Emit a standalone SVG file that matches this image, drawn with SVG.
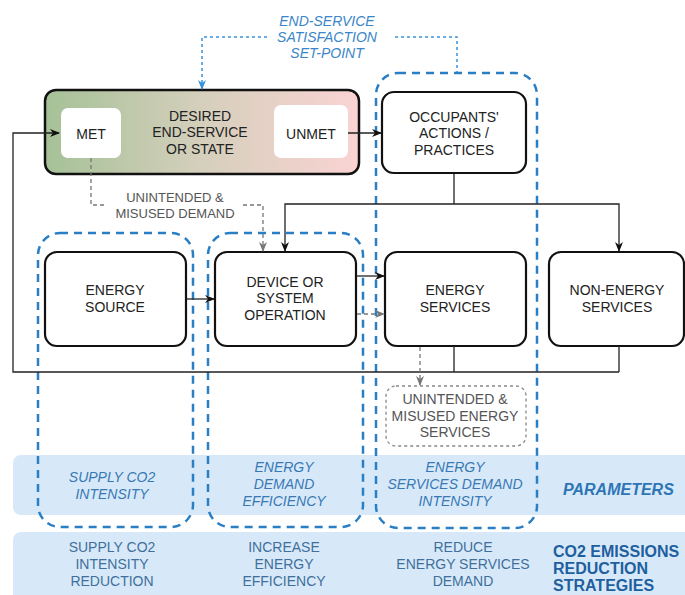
<svg xmlns="http://www.w3.org/2000/svg" width="685" height="595" viewBox="0 0 685 595">
<defs>
<linearGradient id="grad" x1="0" x2="1" y1="0" y2="0">
<stop offset="0" stop-color="#a5c197"/>
<stop offset="0.5" stop-color="#d5cfbc"/>
<stop offset="1" stop-color="#fbd3d3"/>
</linearGradient>
<marker id="ab" viewBox="0 0 10 8" refX="9" refY="4" markerWidth="10" markerHeight="8" markerUnits="userSpaceOnUse" orient="auto"><path d="M0,0 L10,4 L0,8 L3,4 Z" fill="#111"/></marker>
<marker id="ag" viewBox="0 0 10 8" refX="9" refY="4" markerWidth="10" markerHeight="8" markerUnits="userSpaceOnUse" orient="auto"><path d="M0,0 L10,4 L0,8 L3,4 Z" fill="#777"/></marker>
<marker id="abl" viewBox="0 0 10 8" refX="9" refY="4" markerWidth="10" markerHeight="8" markerUnits="userSpaceOnUse" orient="auto"><path d="M0,0 L10,4 L0,8 L3,4 Z" fill="#3a92de"/></marker>
<style>
.node{fill:#fff;stroke:#111;stroke-width:2.2}
.t{font-family:"Liberation Sans",Arial,sans-serif;font-size:14px;fill:#222;text-anchor:middle}
.gt{font-family:"Liberation Sans",Arial,sans-serif;font-size:13px;fill:#555;text-anchor:middle}
.it{font-family:"Liberation Sans",Arial,sans-serif;font-size:14px;font-style:italic;fill:#3878b4;text-anchor:middle}
.bt{font-family:"Liberation Sans",Arial,sans-serif;font-size:14px;fill:#3f6f9c;text-anchor:middle}
.band{fill:#d7e9f8}
.reg{fill:none;stroke:#2a7fc4;stroke-width:2.5;stroke-dasharray:8 6}
.c{fill:none;stroke:#222;stroke-width:1.3}
.cg{fill:none;stroke:#777;stroke-width:1.3;stroke-dasharray:4 3}
.cb{fill:none;stroke:#3a92de;stroke-width:1.5;stroke-dasharray:3 3}
</style>
</defs>

<g id="bands">
<rect class="band" x="13" y="455" width="690" height="60" rx="8"/>
<rect class="band" x="13" y="532" width="690" height="80" rx="8"/>
<text class="it" x="112" y="482">SUPPLY CO2</text>
<text class="it" x="112" y="499">INTENSITY</text>
<text class="it" x="284" y="472">ENERGY</text>
<text class="it" x="284" y="489">DEMAND</text>
<text class="it" x="284" y="506">EFFICIENCY</text>
<text class="it" x="455" y="472">ENERGY</text>
<text class="it" x="455" y="489">SERVICES DEMAND</text>
<text class="it" x="455" y="506">INTENSITY</text>
<text x="563" y="495" style="font-family:'Liberation Sans',Arial,sans-serif;font-size:16px;font-weight:bold;font-style:italic;fill:#2e75b6">PARAMETERS</text>
<text class="bt" x="112" y="552">SUPPLY CO2</text>
<text class="bt" x="112" y="569">INTENSITY</text>
<text class="bt" x="112" y="586">REDUCTION</text>
<text class="bt" x="284" y="552">INCREASE</text>
<text class="bt" x="284" y="569">ENERGY</text>
<text class="bt" x="284" y="586">EFFICIENCY</text>
<text class="bt" x="463" y="552">REDUCE</text>
<text class="bt" x="463" y="569">ENERGY SERVICES</text>
<text class="bt" x="463" y="586">DEMAND</text>
<g style="font-family:'Liberation Sans',Arial,sans-serif;font-size:16px;font-weight:bold;fill:#1f5f9f">
<text x="553" y="557">CO2 EMISSIONS</text>
<text x="553" y="574">REDUCTION</text>
<text x="553" y="591">STRATEGIES</text>
</g>
</g>

<g id="regions">
<rect class="reg" x="38" y="233" width="155" height="294" rx="22"/>
<rect class="reg" x="208" y="233" width="155" height="294" rx="22"/>
<rect class="reg" x="376" y="73" width="161" height="455" rx="22"/>
</g>

<g id="desired">
<rect x="45" y="90" width="314" height="84" rx="11" fill="url(#grad)" stroke="#111" stroke-width="2.5"/>
<text class="t" x="200" y="121">DESIRED</text>
<text class="t" x="200" y="137">END-SERVICE</text>
<text class="t" x="200" y="154">OR STATE</text>
</g>
<g id="met">
<rect x="61" y="108" width="60" height="50" rx="7" fill="#fff"/>
<text class="t" x="91" y="139">MET</text>
</g>
<g id="unmet">
<rect x="274" y="105" width="74" height="53" rx="7" fill="#fff"/>
<text class="t" x="311" y="139">UNMET</text>
</g>
<g id="occupants">
<rect class="node" x="382" y="92" width="144" height="81" rx="12"/>
<text class="t" x="454" y="122">OCCUPANTS'</text>
<text class="t" x="454" y="138">ACTIONS /</text>
<text class="t" x="454" y="155">PRACTICES</text>
</g>
<g id="energy-source">
<rect class="node" x="45" y="252" width="141" height="94" rx="12"/>
<text class="t" x="115" y="295">ENERGY</text>
<text class="t" x="115" y="312">SOURCE</text>
</g>
<g id="device">
<rect class="node" x="215" y="252" width="141" height="94" rx="12"/>
<text class="t" x="285" y="287">DEVICE OR</text>
<text class="t" x="285" y="303">SYSTEM</text>
<text class="t" x="285" y="320">OPERATION</text>
</g>
<g id="energy-services">
<rect class="node" x="385" y="252" width="141" height="94" rx="12"/>
<text class="t" x="455" y="295">ENERGY</text>
<text class="t" x="455" y="312">SERVICES</text>
</g>
<g id="non-energy">
<rect class="node" x="549" y="252" width="135" height="94" rx="12"/>
<text class="t" x="617" y="295">NON-ENERGY</text>
<text class="t" x="617" y="312">SERVICES</text>
</g>
<g id="unintended-es">
<rect x="386" y="386" width="140" height="60" rx="10" fill="#fff" stroke="#888" stroke-width="1.3" stroke-dasharray="3 3"/>
<text class="gt" x="455" y="404" style="font-size:14px">UNINTENDED &amp;</text>
<text class="gt" x="455" y="421" style="font-size:14px">MISUSED ENERGY</text>
<text class="gt" x="455" y="437" style="font-size:14px">SERVICES</text>
</g>

<g id="connectors">
<path class="c" d="M454,346 V372 M619,346 V372 M619,372 H13 V133 H59" marker-end="url(#ab)"/>
<path class="c" d="M348,133 H381" marker-end="url(#ab)"/>
<path class="c" d="M454,174 V204"/>
<path class="c" d="M454,204 H285 V251" marker-end="url(#ab)"/>
<path class="c" d="M454,204 H619 V251" marker-end="url(#ab)"/>
<path class="c" d="M187,299 H214" marker-end="url(#ab)"/>
<path class="c" d="M357,276 H384" marker-end="url(#ab)"/>
<path class="cg" d="M357,314 H384" marker-end="url(#ag)"/>
<path class="cg" d="M91,158 V205 H104"/>
<path class="cg" d="M243,205 H263 V251" marker-end="url(#ag)"/>
<path class="cg" d="M420,347 V385" marker-end="url(#ag)"/>
<path class="cb" d="M267,37 H202 V89" marker-end="url(#abl)"/>
<path class="cb" d="M395,37 H457 V72"/>
<text class="gt" x="175" y="202">UNINTENDED &amp;</text>
<text class="gt" x="175" y="218">MISUSED DEMAND</text>
<g style="font-family:'Liberation Sans',Arial,sans-serif;font-size:14px;font-style:italic;fill:#3a86c8;text-anchor:middle">
<text x="327" y="26">END-SERVICE</text>
<text x="327" y="42">SATISFACTION</text>
<text x="327" y="58">SET-POINT</text>
</g>
</g>
</svg>
